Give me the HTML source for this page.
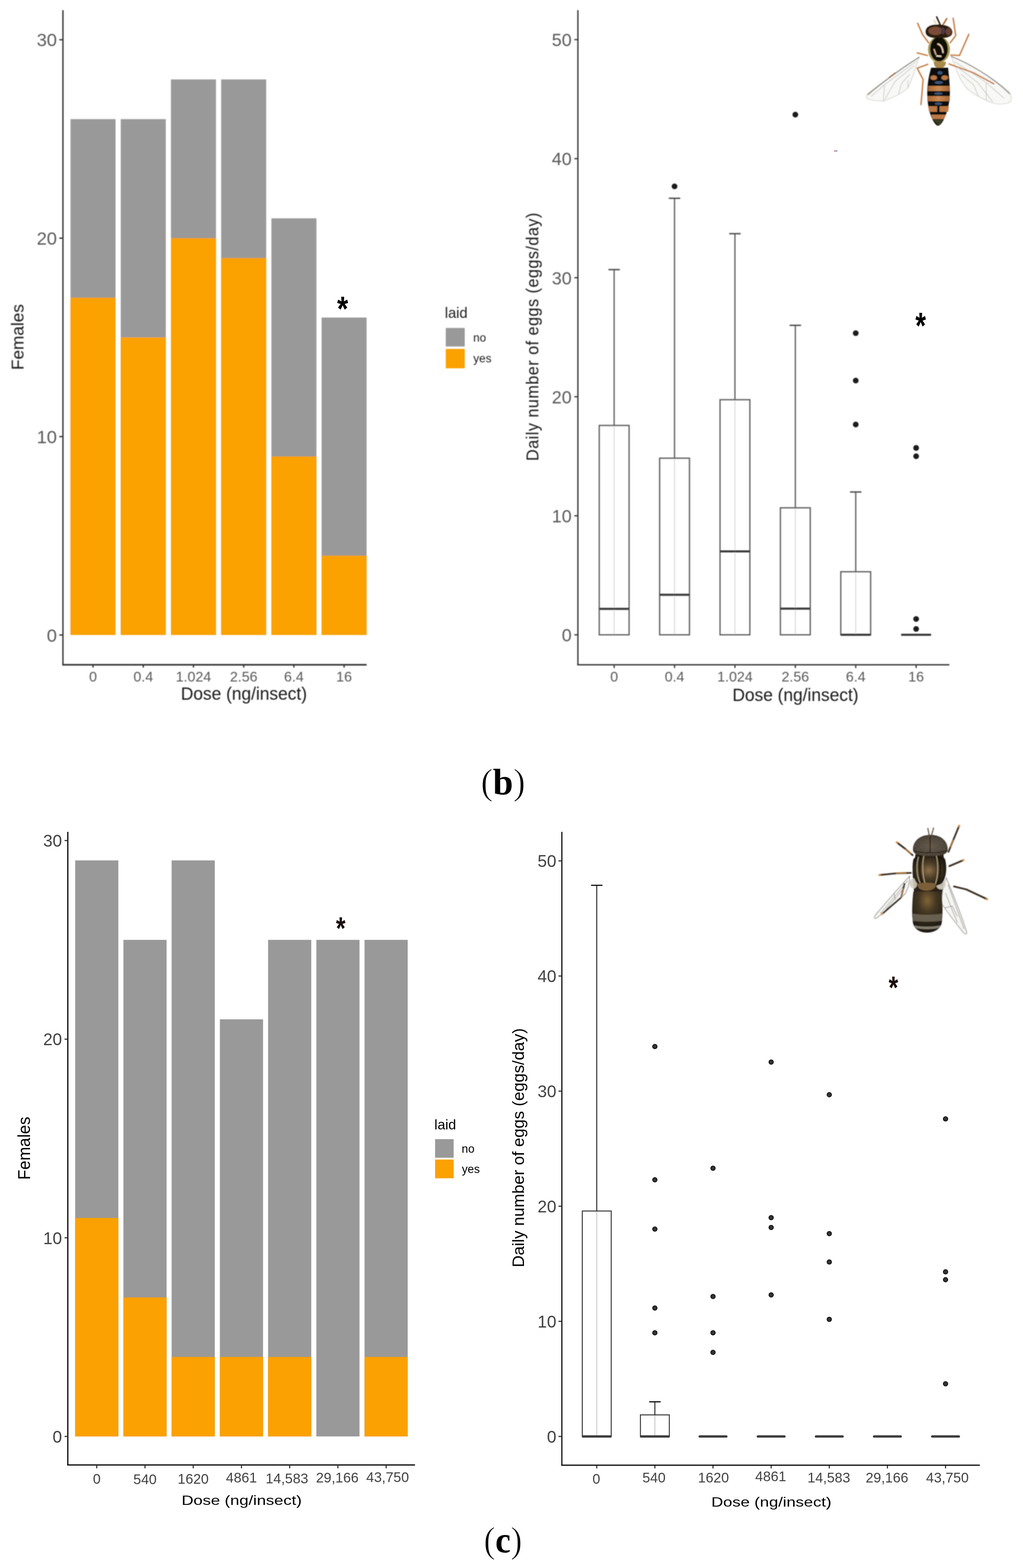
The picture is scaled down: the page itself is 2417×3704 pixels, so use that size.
<!DOCTYPE html>
<html><head><meta charset="utf-8"><title>Figure</title>
<style>html,body{margin:0;padding:0;background:#fff;} svg{display:block;}</style></head>
<body>
<svg width="2417" height="3704" viewBox="0 0 2417 3704">
<defs>
<filter id="soft" x="-5%" y="-5%" width="110%" height="110%"><feGaussianBlur stdDeviation="1.2"/></filter>
</defs>
<rect x="0" y="0" width="2417" height="3704" fill="#fff"/>
<g filter="url(#soft)">
<rect x="166.6" y="281.4" width="106.4" height="1218.6" fill="#999999" />
<rect x="166.6" y="703.2" width="106.4" height="796.8" fill="#FBA102" />
<rect x="285.3" y="281.4" width="106.4" height="1218.6" fill="#999999" />
<rect x="285.3" y="797.0" width="106.4" height="703.0" fill="#FBA102" />
<rect x="403.9" y="187.6" width="106.4" height="1312.4" fill="#999999" />
<rect x="403.9" y="562.6" width="106.4" height="937.4" fill="#FBA102" />
<rect x="522.5" y="187.6" width="106.4" height="1312.4" fill="#999999" />
<rect x="522.5" y="609.5" width="106.4" height="890.5" fill="#FBA102" />
<rect x="641.2" y="515.7" width="106.4" height="984.3" fill="#999999" />
<rect x="641.2" y="1078.2" width="106.4" height="421.8" fill="#FBA102" />
<rect x="759.8" y="750.1" width="106.4" height="749.9" fill="#999999" />
<rect x="759.8" y="1312.5" width="106.4" height="187.5" fill="#FBA102" />
<line x1="148.7" y1="24.0" x2="148.7" y2="1571.0" stroke="#333" stroke-width="3.2" stroke-linecap="butt" />
<line x1="147.1" y1="1570.3" x2="866.3" y2="1570.3" stroke="#333" stroke-width="3.8" stroke-linecap="butt" />
<line x1="140.0" y1="1500.0" x2="148.0" y2="1500.0" stroke="#333" stroke-width="3" stroke-linecap="butt" />
<text x="134.5" y="1515.5" font-family="'Liberation Sans', Arial, sans-serif" font-size="43" fill="#5a5a5a" text-anchor="end" font-weight="normal" >0</text>
<line x1="140.0" y1="1031.3" x2="148.0" y2="1031.3" stroke="#333" stroke-width="3" stroke-linecap="butt" />
<text x="134.5" y="1046.8" font-family="'Liberation Sans', Arial, sans-serif" font-size="43" fill="#5a5a5a" text-anchor="end" font-weight="normal" >10</text>
<line x1="140.0" y1="562.6" x2="148.0" y2="562.6" stroke="#333" stroke-width="3" stroke-linecap="butt" />
<text x="134.5" y="578.1" font-family="'Liberation Sans', Arial, sans-serif" font-size="43" fill="#5a5a5a" text-anchor="end" font-weight="normal" >20</text>
<line x1="140.0" y1="93.9" x2="148.0" y2="93.9" stroke="#333" stroke-width="3" stroke-linecap="butt" />
<text x="134.5" y="109.4" font-family="'Liberation Sans', Arial, sans-serif" font-size="43" fill="#5a5a5a" text-anchor="end" font-weight="normal" >30</text>
<line x1="219.8" y1="1570.0" x2="219.8" y2="1577.0" stroke="#333" stroke-width="3" stroke-linecap="butt" />
<text x="219.8" y="1609.9" font-family="'Liberation Sans', Arial, sans-serif" font-size="33.5" fill="#5a5a5a" text-anchor="middle" font-weight="normal" >0</text>
<line x1="338.5" y1="1570.0" x2="338.5" y2="1577.0" stroke="#333" stroke-width="3" stroke-linecap="butt" />
<text x="338.5" y="1609.9" font-family="'Liberation Sans', Arial, sans-serif" font-size="33.5" fill="#5a5a5a" text-anchor="middle" font-weight="normal" >0.4</text>
<line x1="457.1" y1="1570.0" x2="457.1" y2="1577.0" stroke="#333" stroke-width="3" stroke-linecap="butt" />
<text x="457.1" y="1609.9" font-family="'Liberation Sans', Arial, sans-serif" font-size="33.5" fill="#5a5a5a" text-anchor="middle" font-weight="normal" >1.024</text>
<line x1="575.8" y1="1570.0" x2="575.8" y2="1577.0" stroke="#333" stroke-width="3" stroke-linecap="butt" />
<text x="575.8" y="1609.9" font-family="'Liberation Sans', Arial, sans-serif" font-size="33.5" fill="#5a5a5a" text-anchor="middle" font-weight="normal" >2.56</text>
<line x1="694.4" y1="1570.0" x2="694.4" y2="1577.0" stroke="#333" stroke-width="3" stroke-linecap="butt" />
<text x="694.4" y="1609.9" font-family="'Liberation Sans', Arial, sans-serif" font-size="33.5" fill="#5a5a5a" text-anchor="middle" font-weight="normal" >6.4</text>
<line x1="813.0" y1="1570.0" x2="813.0" y2="1577.0" stroke="#333" stroke-width="3" stroke-linecap="butt" />
<text x="813.0" y="1609.9" font-family="'Liberation Sans', Arial, sans-serif" font-size="33.5" fill="#5a5a5a" text-anchor="middle" font-weight="normal" >16</text>
<text x="576.3" y="1653.0" font-family="'Liberation Sans', Arial, sans-serif" font-size="42" fill="#1a1a1a" text-anchor="middle" font-weight="normal" textLength="298" lengthAdjust="spacingAndGlyphs" >Dose (ng/insect)</text>
<text transform="translate(55.6,796.2) rotate(-90)" x="0" y="0" font-family="'Liberation Sans', Arial, sans-serif" font-size="41" fill="#1a1a1a" text-anchor="middle" textLength="155.5" lengthAdjust="spacingAndGlyphs">Females</text>
<text x="1051.0" y="751.0" font-family="'Liberation Sans', Arial, sans-serif" font-size="34.5" fill="#222" text-anchor="start" font-weight="normal" >laid</text>
<rect x="1053.2" y="774.7" width="44.8" height="43.8" fill="#999999" />
<rect x="1053.2" y="824.2" width="44.8" height="45.8" fill="#FBA102" />
<text x="1118.0" y="807.4" font-family="'Liberation Sans', Arial, sans-serif" font-size="28" fill="#222" text-anchor="start" font-weight="normal" textLength="30.5" lengthAdjust="spacingAndGlyphs" >no</text>
<text x="1118.3" y="855.6" font-family="'Liberation Sans', Arial, sans-serif" font-size="28" fill="#222" text-anchor="start" font-weight="normal" textLength="43" lengthAdjust="spacingAndGlyphs" >yes</text>
</g>
<text transform="translate(809.5,698.5) scale(1.0,1.21)" x="0" y="0" font-family="'Liberation Sans', Arial, sans-serif" font-weight="bold" font-size="67" text-anchor="middle" dominant-baseline="hanging" fill="#000">*</text>
<g filter="url(#soft)">
<line x1="1451.0" y1="636.9" x2="1451.0" y2="1005.0" stroke="#5f5f5f" stroke-width="3" stroke-linecap="butt" />
<line x1="1437.5" y1="636.9" x2="1464.5" y2="636.9" stroke="#4a4a4a" stroke-width="3.2" stroke-linecap="butt" />
<line x1="1451.0" y1="1005.0" x2="1451.0" y2="1499.6" stroke="#dcdcdc" stroke-width="2.5" stroke-linecap="butt" />
<rect x="1415.8" y="1005.0" width="70.5" height="494.6" fill="none" stroke="#5f5f5f" stroke-width="3"/>
<line x1="1415.8" y1="1438.3" x2="1486.2" y2="1438.3" stroke="#3a3a3a" stroke-width="5" stroke-linecap="butt" />
<line x1="1593.7" y1="468.4" x2="1593.7" y2="1082.3" stroke="#5f5f5f" stroke-width="3" stroke-linecap="butt" />
<line x1="1580.2" y1="468.4" x2="1607.2" y2="468.4" stroke="#4a4a4a" stroke-width="3.2" stroke-linecap="butt" />
<line x1="1593.7" y1="1082.3" x2="1593.7" y2="1499.6" stroke="#dcdcdc" stroke-width="2.5" stroke-linecap="butt" />
<rect x="1558.5" y="1082.3" width="70.5" height="417.3" fill="none" stroke="#5f5f5f" stroke-width="3"/>
<line x1="1558.5" y1="1405.1" x2="1629.0" y2="1405.1" stroke="#3a3a3a" stroke-width="5" stroke-linecap="butt" />
<circle cx="1593.7" cy="440.3" r="6.8" fill="#1e1e1e"/>
<line x1="1736.4" y1="552.0" x2="1736.4" y2="944.2" stroke="#5f5f5f" stroke-width="3" stroke-linecap="butt" />
<line x1="1722.9" y1="552.0" x2="1749.9" y2="552.0" stroke="#4a4a4a" stroke-width="3.2" stroke-linecap="butt" />
<line x1="1736.4" y1="944.2" x2="1736.4" y2="1499.6" stroke="#dcdcdc" stroke-width="2.5" stroke-linecap="butt" />
<rect x="1701.2" y="944.2" width="70.5" height="555.4" fill="none" stroke="#5f5f5f" stroke-width="3"/>
<line x1="1701.2" y1="1302.5" x2="1771.7" y2="1302.5" stroke="#3a3a3a" stroke-width="5" stroke-linecap="butt" />
<line x1="1879.1" y1="768.5" x2="1879.1" y2="1199.6" stroke="#5f5f5f" stroke-width="3" stroke-linecap="butt" />
<line x1="1865.6" y1="768.5" x2="1892.6" y2="768.5" stroke="#4a4a4a" stroke-width="3.2" stroke-linecap="butt" />
<line x1="1879.1" y1="1199.6" x2="1879.1" y2="1499.6" stroke="#dcdcdc" stroke-width="2.5" stroke-linecap="butt" />
<rect x="1843.8" y="1199.6" width="70.5" height="300.0" fill="none" stroke="#5f5f5f" stroke-width="3"/>
<line x1="1843.8" y1="1437.7" x2="1914.3" y2="1437.7" stroke="#3a3a3a" stroke-width="5" stroke-linecap="butt" />
<circle cx="1879.1" cy="270.8" r="6.8" fill="#1e1e1e"/>
<line x1="2021.8" y1="1162.2" x2="2021.8" y2="1350.6" stroke="#5f5f5f" stroke-width="3" stroke-linecap="butt" />
<line x1="2008.3" y1="1162.2" x2="2035.3" y2="1162.2" stroke="#4a4a4a" stroke-width="3.2" stroke-linecap="butt" />
<line x1="2021.8" y1="1350.6" x2="2021.8" y2="1499.6" stroke="#dcdcdc" stroke-width="2.5" stroke-linecap="butt" />
<rect x="1986.5" y="1350.6" width="70.5" height="149.0" fill="none" stroke="#5f5f5f" stroke-width="3"/>
<line x1="1986.5" y1="1499.6" x2="2057.1" y2="1499.6" stroke="#3a3a3a" stroke-width="5" stroke-linecap="butt" />
<circle cx="2021.8" cy="787.0" r="6.8" fill="#1e1e1e"/>
<circle cx="2021.8" cy="899.0" r="6.8" fill="#1e1e1e"/>
<circle cx="2021.8" cy="1002.7" r="6.8" fill="#1e1e1e"/>
<line x1="2129.2" y1="1499.6" x2="2199.8" y2="1499.6" stroke="#3a3a3a" stroke-width="5" stroke-linecap="butt" />
<circle cx="2164.5" cy="1058.1" r="6.8" fill="#1e1e1e"/>
<circle cx="2164.5" cy="1077.8" r="6.8" fill="#1e1e1e"/>
<circle cx="2164.5" cy="1462.2" r="6.8" fill="#1e1e1e"/>
<circle cx="2164.5" cy="1485.8" r="6.8" fill="#1e1e1e"/>
<line x1="1365.4" y1="24.0" x2="1365.4" y2="1572.0" stroke="#3a3a3a" stroke-width="3.2" stroke-linecap="butt" />
<line x1="1363.8" y1="1570.3" x2="2243.0" y2="1570.3" stroke="#3a3a3a" stroke-width="3.2" stroke-linecap="butt" />
<line x1="1357.0" y1="1499.6" x2="1365.0" y2="1499.6" stroke="#3a3a3a" stroke-width="3" stroke-linecap="butt" />
<text x="1350.5" y="1515.1" font-family="'Liberation Sans', Arial, sans-serif" font-size="42" fill="#5a5a5a" text-anchor="end" font-weight="normal" >0</text>
<line x1="1357.0" y1="1218.4" x2="1365.0" y2="1218.4" stroke="#3a3a3a" stroke-width="3" stroke-linecap="butt" />
<text x="1350.5" y="1233.9" font-family="'Liberation Sans', Arial, sans-serif" font-size="42" fill="#5a5a5a" text-anchor="end" font-weight="normal" >10</text>
<line x1="1357.0" y1="937.2" x2="1365.0" y2="937.2" stroke="#3a3a3a" stroke-width="3" stroke-linecap="butt" />
<text x="1350.5" y="952.7" font-family="'Liberation Sans', Arial, sans-serif" font-size="42" fill="#5a5a5a" text-anchor="end" font-weight="normal" >20</text>
<line x1="1357.0" y1="656.0" x2="1365.0" y2="656.0" stroke="#3a3a3a" stroke-width="3" stroke-linecap="butt" />
<text x="1350.5" y="671.5" font-family="'Liberation Sans', Arial, sans-serif" font-size="42" fill="#5a5a5a" text-anchor="end" font-weight="normal" >30</text>
<line x1="1357.0" y1="374.8" x2="1365.0" y2="374.8" stroke="#3a3a3a" stroke-width="3" stroke-linecap="butt" />
<text x="1350.5" y="390.3" font-family="'Liberation Sans', Arial, sans-serif" font-size="42" fill="#5a5a5a" text-anchor="end" font-weight="normal" >40</text>
<line x1="1357.0" y1="93.6" x2="1365.0" y2="93.6" stroke="#3a3a3a" stroke-width="3" stroke-linecap="butt" />
<text x="1350.5" y="109.1" font-family="'Liberation Sans', Arial, sans-serif" font-size="42" fill="#5a5a5a" text-anchor="end" font-weight="normal" >50</text>
<line x1="1451.0" y1="1571.0" x2="1451.0" y2="1578.0" stroke="#3a3a3a" stroke-width="3" stroke-linecap="butt" />
<text x="1451.0" y="1610.4" font-family="'Liberation Sans', Arial, sans-serif" font-size="33.5" fill="#5a5a5a" text-anchor="middle" font-weight="normal" >0</text>
<line x1="1593.7" y1="1571.0" x2="1593.7" y2="1578.0" stroke="#3a3a3a" stroke-width="3" stroke-linecap="butt" />
<text x="1593.7" y="1610.4" font-family="'Liberation Sans', Arial, sans-serif" font-size="33.5" fill="#5a5a5a" text-anchor="middle" font-weight="normal" >0.4</text>
<line x1="1736.4" y1="1571.0" x2="1736.4" y2="1578.0" stroke="#3a3a3a" stroke-width="3" stroke-linecap="butt" />
<text x="1736.4" y="1610.4" font-family="'Liberation Sans', Arial, sans-serif" font-size="33.5" fill="#5a5a5a" text-anchor="middle" font-weight="normal" >1.024</text>
<line x1="1879.1" y1="1571.0" x2="1879.1" y2="1578.0" stroke="#3a3a3a" stroke-width="3" stroke-linecap="butt" />
<text x="1879.1" y="1610.4" font-family="'Liberation Sans', Arial, sans-serif" font-size="33.5" fill="#5a5a5a" text-anchor="middle" font-weight="normal" >2.56</text>
<line x1="2021.8" y1="1571.0" x2="2021.8" y2="1578.0" stroke="#3a3a3a" stroke-width="3" stroke-linecap="butt" />
<text x="2021.8" y="1610.4" font-family="'Liberation Sans', Arial, sans-serif" font-size="33.5" fill="#5a5a5a" text-anchor="middle" font-weight="normal" >6.4</text>
<line x1="2164.5" y1="1571.0" x2="2164.5" y2="1578.0" stroke="#3a3a3a" stroke-width="3" stroke-linecap="butt" />
<text x="2164.5" y="1610.4" font-family="'Liberation Sans', Arial, sans-serif" font-size="33.5" fill="#5a5a5a" text-anchor="middle" font-weight="normal" >16</text>
<text x="1879.4" y="1655.5" font-family="'Liberation Sans', Arial, sans-serif" font-size="42" fill="#1a1a1a" text-anchor="middle" font-weight="normal" textLength="298" lengthAdjust="spacingAndGlyphs" >Dose (ng/insect)</text>
<text transform="translate(1272,795.6) rotate(-90) scale(0.94,1)" x="0" y="0" font-family="'Liberation Sans', Arial, sans-serif" font-size="40.5" fill="#1a1a1a" text-anchor="middle" textLength="624" lengthAdjust="spacing">Daily number of eggs (eggs/day)</text>
</g>
<text transform="translate(2175.1,736.7) scale(1.0,1.35)" x="0" y="0" font-family="'Liberation Sans', Arial, sans-serif" font-weight="bold" font-size="64" text-anchor="middle" dominant-baseline="hanging" fill="#000">*</text>
<rect x="1970.5" y="355.5" width="2.6" height="2.4" fill="#e05050"/><rect x="1973.1" y="355.5" width="2.6" height="2.4" fill="#50b070"/><rect x="1975.7" y="355.5" width="2.6" height="2.4" fill="#5070e0"/>
<rect x="177.6" y="2032.5" width="102.0" height="1360.7" fill="#999999" />
<rect x="177.6" y="2877.1" width="102.0" height="516.1" fill="#FBA102" />
<rect x="291.6" y="2220.2" width="102.0" height="1173.0" fill="#999999" />
<rect x="291.6" y="3064.8" width="102.0" height="328.4" fill="#FBA102" />
<rect x="405.5" y="2032.5" width="102.0" height="1360.7" fill="#999999" />
<rect x="405.5" y="3205.5" width="102.0" height="187.7" fill="#FBA102" />
<rect x="519.5" y="2407.9" width="102.0" height="985.3" fill="#999999" />
<rect x="519.5" y="3205.5" width="102.0" height="187.7" fill="#FBA102" />
<rect x="633.4" y="2220.2" width="102.0" height="1173.0" fill="#999999" />
<rect x="633.4" y="3205.5" width="102.0" height="187.7" fill="#FBA102" />
<rect x="747.4" y="2220.2" width="102.0" height="1173.0" fill="#999999" />
<rect x="861.3" y="2220.2" width="102.0" height="1173.0" fill="#999999" />
<rect x="861.3" y="3205.5" width="102.0" height="187.7" fill="#FBA102" />
<line x1="160.2" y1="1965.0" x2="160.2" y2="3462.0" stroke="#000" stroke-width="2.8" stroke-linecap="butt" />
<line x1="158.8" y1="3460.6" x2="980.5" y2="3460.6" stroke="#000" stroke-width="2.8" stroke-linecap="butt" />
<line x1="152.6" y1="3393.2" x2="160.0" y2="3393.2" stroke="#333" stroke-width="2.7" stroke-linecap="butt" />
<text x="146.5" y="3407.8" font-family="'Liberation Sans', Arial, sans-serif" font-size="40" fill="#444" text-anchor="end" font-weight="normal" >0</text>
<line x1="152.6" y1="2924.0" x2="160.0" y2="2924.0" stroke="#333" stroke-width="2.7" stroke-linecap="butt" />
<text x="146.5" y="2938.6" font-family="'Liberation Sans', Arial, sans-serif" font-size="40" fill="#444" text-anchor="end" font-weight="normal" >10</text>
<line x1="152.6" y1="2454.8" x2="160.0" y2="2454.8" stroke="#333" stroke-width="2.7" stroke-linecap="butt" />
<text x="146.5" y="2469.4" font-family="'Liberation Sans', Arial, sans-serif" font-size="40" fill="#444" text-anchor="end" font-weight="normal" >20</text>
<line x1="152.6" y1="1985.6" x2="160.0" y2="1985.6" stroke="#333" stroke-width="2.7" stroke-linecap="butt" />
<text x="146.5" y="2000.2" font-family="'Liberation Sans', Arial, sans-serif" font-size="40" fill="#444" text-anchor="end" font-weight="normal" >30</text>
<line x1="228.6" y1="3461.0" x2="228.6" y2="3468.5" stroke="#333" stroke-width="2.7" stroke-linecap="butt" />
<text x="228.6" y="3504.6" font-family="'Liberation Sans', Arial, sans-serif" font-size="33" fill="#444" text-anchor="middle" font-weight="normal" >0</text>
<line x1="342.6" y1="3461.0" x2="342.6" y2="3468.5" stroke="#333" stroke-width="2.7" stroke-linecap="butt" />
<text x="342.6" y="3505.7" font-family="'Liberation Sans', Arial, sans-serif" font-size="33" fill="#444" text-anchor="middle" font-weight="normal" >540</text>
<line x1="456.5" y1="3461.0" x2="456.5" y2="3468.5" stroke="#333" stroke-width="2.7" stroke-linecap="butt" />
<text x="456.5" y="3504.5" font-family="'Liberation Sans', Arial, sans-serif" font-size="33" fill="#444" text-anchor="middle" font-weight="normal" >1620</text>
<line x1="570.5" y1="3461.0" x2="570.5" y2="3468.5" stroke="#333" stroke-width="2.7" stroke-linecap="butt" />
<text x="570.5" y="3502.4" font-family="'Liberation Sans', Arial, sans-serif" font-size="33" fill="#444" text-anchor="middle" font-weight="normal" >4861</text>
<line x1="684.4" y1="3461.0" x2="684.4" y2="3468.5" stroke="#333" stroke-width="2.7" stroke-linecap="butt" />
<text x="677.9" y="3504.0" font-family="'Liberation Sans', Arial, sans-serif" font-size="33" fill="#444" text-anchor="middle" font-weight="normal" >14,583</text>
<line x1="798.4" y1="3461.0" x2="798.4" y2="3468.5" stroke="#333" stroke-width="2.7" stroke-linecap="butt" />
<text x="796.9" y="3501.8" font-family="'Liberation Sans', Arial, sans-serif" font-size="33" fill="#444" text-anchor="middle" font-weight="normal" >29,166</text>
<line x1="912.3" y1="3461.0" x2="912.3" y2="3468.5" stroke="#333" stroke-width="2.7" stroke-linecap="butt" />
<text x="915.8" y="3501.3" font-family="'Liberation Sans', Arial, sans-serif" font-size="33" fill="#444" text-anchor="middle" font-weight="normal" >43,750</text>
<text x="570.9" y="3555.2" font-family="'Liberation Sans', Arial, sans-serif" font-size="32" fill="#000" text-anchor="middle" font-weight="normal" textLength="284" lengthAdjust="spacingAndGlyphs" >Dose (ng/insect)</text>
<text transform="translate(70.8,2712.4) rotate(-90)" x="0" y="0" font-family="'Liberation Sans', Arial, sans-serif" font-size="41" fill="#000" text-anchor="middle" textLength="149" lengthAdjust="spacingAndGlyphs">Females</text>
<text x="1026.3" y="2668.2" font-family="'Liberation Sans', Arial, sans-serif" font-size="33" fill="#000" text-anchor="start" font-weight="normal" >laid</text>
<rect x="1028.0" y="2691.0" width="43.8" height="43.8" fill="#999999" />
<rect x="1028.0" y="2739.1" width="43.8" height="44.3" fill="#FBA102" />
<text x="1090.8" y="2722.8" font-family="'Liberation Sans', Arial, sans-serif" font-size="28" fill="#000" text-anchor="start" font-weight="normal" textLength="30.3" lengthAdjust="spacingAndGlyphs" >no</text>
<text x="1091.2" y="2771.2" font-family="'Liberation Sans', Arial, sans-serif" font-size="27.5" fill="#000" text-anchor="start" font-weight="normal" textLength="42.5" lengthAdjust="spacingAndGlyphs" >yes</text>
<text transform="translate(805.0,2164.3) scale(1.0,1.27)" x="0" y="0" font-family="'Liberation Sans', Arial, sans-serif" font-weight="bold" font-size="58" text-anchor="middle" dominant-baseline="hanging" fill="#1a0e0e">*</text>
<line x1="1409.9" y1="2091.3" x2="1409.9" y2="2860.7" stroke="#333" stroke-width="2.5" stroke-linecap="butt" />
<line x1="1396.4" y1="2091.3" x2="1423.4" y2="2091.3" stroke="#111" stroke-width="2.8" stroke-linecap="butt" />
<line x1="1409.9" y1="2860.7" x2="1409.9" y2="3393.2" stroke="#cfcfcf" stroke-width="2.6" stroke-linecap="butt" />
<rect x="1375.8" y="2860.7" width="68.3" height="532.5" fill="none" stroke="#3c3c3c" stroke-width="2.4"/>
<rect x="1375.0" y="3390.4" width="69.89999999999999" height="5.6" rx="1.5" fill="#3c3c3c"/>
<line x1="1547.2" y1="3311.4" x2="1547.2" y2="3342.3" stroke="#333" stroke-width="2.5" stroke-linecap="butt" />
<line x1="1533.8" y1="3311.4" x2="1560.8" y2="3311.4" stroke="#111" stroke-width="2.8" stroke-linecap="butt" />
<line x1="1547.2" y1="3342.3" x2="1547.2" y2="3393.2" stroke="#cfcfcf" stroke-width="2.6" stroke-linecap="butt" />
<rect x="1513.1" y="3342.3" width="68.3" height="50.9" fill="none" stroke="#3c3c3c" stroke-width="2.4"/>
<rect x="1512.3" y="3390.4" width="69.89999999999999" height="5.6" rx="1.5" fill="#3c3c3c"/>
<circle cx="1547.2" cy="2472.2" r="5.3" fill="#333" stroke="#0c0c0c" stroke-width="1.7"/>
<circle cx="1547.2" cy="2787.0" r="5.3" fill="#333" stroke="#0c0c0c" stroke-width="1.7"/>
<circle cx="1547.2" cy="2903.3" r="5.3" fill="#333" stroke="#0c0c0c" stroke-width="1.7"/>
<circle cx="1547.2" cy="3089.9" r="5.3" fill="#333" stroke="#0c0c0c" stroke-width="1.7"/>
<circle cx="1547.2" cy="3148.4" r="5.3" fill="#333" stroke="#0c0c0c" stroke-width="1.7"/>
<rect x="1650.5" y="3390.4" width="68.3" height="5.6" rx="2.8" fill="#3c3c3c"/>
<circle cx="1684.6" cy="2759.6" r="5.3" fill="#333" stroke="#0c0c0c" stroke-width="1.7"/>
<circle cx="1684.6" cy="3062.6" r="5.3" fill="#333" stroke="#0c0c0c" stroke-width="1.7"/>
<circle cx="1684.6" cy="3148.4" r="5.3" fill="#333" stroke="#0c0c0c" stroke-width="1.7"/>
<circle cx="1684.6" cy="3194.7" r="5.3" fill="#333" stroke="#0c0c0c" stroke-width="1.7"/>
<rect x="1787.8" y="3390.4" width="68.3" height="5.6" rx="2.8" fill="#3c3c3c"/>
<circle cx="1822.0" cy="2508.8" r="5.3" fill="#333" stroke="#0c0c0c" stroke-width="1.7"/>
<circle cx="1822.0" cy="2876.4" r="5.3" fill="#333" stroke="#0c0c0c" stroke-width="1.7"/>
<circle cx="1822.0" cy="2899.6" r="5.3" fill="#333" stroke="#0c0c0c" stroke-width="1.7"/>
<circle cx="1822.0" cy="3058.9" r="5.3" fill="#333" stroke="#0c0c0c" stroke-width="1.7"/>
<rect x="1925.2" y="3390.4" width="68.3" height="5.6" rx="2.8" fill="#3c3c3c"/>
<circle cx="1959.3" cy="2586.0" r="5.3" fill="#333" stroke="#0c0c0c" stroke-width="1.7"/>
<circle cx="1959.3" cy="2914.1" r="5.3" fill="#333" stroke="#0c0c0c" stroke-width="1.7"/>
<circle cx="1959.3" cy="2981.2" r="5.3" fill="#333" stroke="#0c0c0c" stroke-width="1.7"/>
<circle cx="1959.3" cy="3116.6" r="5.3" fill="#333" stroke="#0c0c0c" stroke-width="1.7"/>
<rect x="2062.5" y="3390.4" width="68.3" height="5.6" rx="2.8" fill="#3c3c3c"/>
<rect x="2199.8" y="3390.4" width="68.3" height="5.6" rx="2.8" fill="#3c3c3c"/>
<circle cx="2234.0" cy="2643.2" r="5.3" fill="#333" stroke="#0c0c0c" stroke-width="1.7"/>
<circle cx="2234.0" cy="3004.4" r="5.3" fill="#333" stroke="#0c0c0c" stroke-width="1.7"/>
<circle cx="2234.0" cy="3023.0" r="5.3" fill="#333" stroke="#0c0c0c" stroke-width="1.7"/>
<circle cx="2234.0" cy="3268.8" r="5.3" fill="#333" stroke="#0c0c0c" stroke-width="1.7"/>
<line x1="1327.5" y1="1965.0" x2="1327.5" y2="3462.5" stroke="#000" stroke-width="2.6" stroke-linecap="butt" />
<line x1="1326.2" y1="3461.1" x2="2315.0" y2="3461.1" stroke="#000" stroke-width="2.8" stroke-linecap="butt" />
<line x1="1319.5" y1="3393.2" x2="1327.0" y2="3393.2" stroke="#333" stroke-width="2.7" stroke-linecap="butt" />
<text x="1314.5" y="3407.8" font-family="'Liberation Sans', Arial, sans-serif" font-size="40" fill="#444" text-anchor="end" font-weight="normal" >0</text>
<line x1="1319.5" y1="3121.3" x2="1327.0" y2="3121.3" stroke="#333" stroke-width="2.7" stroke-linecap="butt" />
<text x="1314.5" y="3135.9" font-family="'Liberation Sans', Arial, sans-serif" font-size="40" fill="#444" text-anchor="end" font-weight="normal" >10</text>
<line x1="1319.5" y1="2849.4" x2="1327.0" y2="2849.4" stroke="#333" stroke-width="2.7" stroke-linecap="butt" />
<text x="1314.5" y="2864.0" font-family="'Liberation Sans', Arial, sans-serif" font-size="40" fill="#444" text-anchor="end" font-weight="normal" >20</text>
<line x1="1319.5" y1="2577.5" x2="1327.0" y2="2577.5" stroke="#333" stroke-width="2.7" stroke-linecap="butt" />
<text x="1314.5" y="2592.1" font-family="'Liberation Sans', Arial, sans-serif" font-size="40" fill="#444" text-anchor="end" font-weight="normal" >30</text>
<line x1="1319.5" y1="2305.6" x2="1327.0" y2="2305.6" stroke="#333" stroke-width="2.7" stroke-linecap="butt" />
<text x="1314.5" y="2320.2" font-family="'Liberation Sans', Arial, sans-serif" font-size="40" fill="#444" text-anchor="end" font-weight="normal" >40</text>
<line x1="1319.5" y1="2033.7" x2="1327.0" y2="2033.7" stroke="#333" stroke-width="2.7" stroke-linecap="butt" />
<text x="1314.5" y="2048.3" font-family="'Liberation Sans', Arial, sans-serif" font-size="40" fill="#444" text-anchor="end" font-weight="normal" >50</text>
<line x1="1409.9" y1="3462.0" x2="1409.9" y2="3468.7" stroke="#333" stroke-width="2.7" stroke-linecap="butt" />
<text x="1408.9" y="3505.0" font-family="'Liberation Sans', Arial, sans-serif" font-size="33" fill="#444" text-anchor="middle" font-weight="normal" >0</text>
<line x1="1547.2" y1="3462.0" x2="1547.2" y2="3468.7" stroke="#333" stroke-width="2.7" stroke-linecap="butt" />
<text x="1545.2" y="3501.8" font-family="'Liberation Sans', Arial, sans-serif" font-size="33" fill="#444" text-anchor="middle" font-weight="normal" >540</text>
<line x1="1684.6" y1="3462.0" x2="1684.6" y2="3468.7" stroke="#333" stroke-width="2.7" stroke-linecap="butt" />
<text x="1685.6" y="3501.8" font-family="'Liberation Sans', Arial, sans-serif" font-size="33" fill="#444" text-anchor="middle" font-weight="normal" >1620</text>
<line x1="1822.0" y1="3462.0" x2="1822.0" y2="3468.7" stroke="#333" stroke-width="2.7" stroke-linecap="butt" />
<text x="1821.0" y="3498.5" font-family="'Liberation Sans', Arial, sans-serif" font-size="33" fill="#444" text-anchor="middle" font-weight="normal" >4861</text>
<line x1="1959.3" y1="3462.0" x2="1959.3" y2="3468.7" stroke="#333" stroke-width="2.7" stroke-linecap="butt" />
<text x="1958.3" y="3501.5" font-family="'Liberation Sans', Arial, sans-serif" font-size="33" fill="#444" text-anchor="middle" font-weight="normal" >14,583</text>
<line x1="2096.7" y1="3462.0" x2="2096.7" y2="3468.7" stroke="#333" stroke-width="2.7" stroke-linecap="butt" />
<text x="2095.7" y="3501.5" font-family="'Liberation Sans', Arial, sans-serif" font-size="33" fill="#444" text-anchor="middle" font-weight="normal" >29,166</text>
<line x1="2234.0" y1="3462.0" x2="2234.0" y2="3468.7" stroke="#333" stroke-width="2.7" stroke-linecap="butt" />
<text x="2238.5" y="3501.5" font-family="'Liberation Sans', Arial, sans-serif" font-size="33" fill="#444" text-anchor="middle" font-weight="normal" >43,750</text>
<text x="1822.4" y="3558.5" font-family="'Liberation Sans', Arial, sans-serif" font-size="32" fill="#000" text-anchor="middle" font-weight="normal" textLength="284" lengthAdjust="spacingAndGlyphs" >Dose (ng/insect)</text>
<text transform="translate(1238.3,2711.3) rotate(-90)" x="0" y="0" font-family="'Liberation Sans', Arial, sans-serif" font-size="38" fill="#000" text-anchor="middle" textLength="565" lengthAdjust="spacingAndGlyphs">Daily number of eggs (eggs/day)</text>
<text transform="translate(2110.8,2303.5) scale(1.0,1.29)" x="0" y="0" font-family="'Liberation Sans', Arial, sans-serif" font-weight="bold" font-size="58" text-anchor="middle" dominant-baseline="hanging" fill="#1a0e0e">*</text>
<text x="1188.5" y="1875.6" font-family="'Liberation Serif', 'Times New Roman', serif" font-size="86" fill="#000" text-anchor="middle"><tspan stroke="#fff" stroke-width="1.4">(</tspan><tspan font-weight="bold">b</tspan><tspan stroke="#fff" stroke-width="1.4">)</tspan></text>
<text x="1188.3" y="3667" font-family="'Liberation Serif', 'Times New Roman', serif" font-size="86" fill="#000" text-anchor="middle" textLength="90.5" lengthAdjust="spacingAndGlyphs"><tspan stroke="#fff" stroke-width="1.4">(</tspan><tspan font-weight="bold">c</tspan><tspan stroke="#fff" stroke-width="1.4">)</tspan></text>
<defs>
<filter id="flyblur" x="-10%" y="-10%" width="120%" height="120%"><feGaussianBlur stdDeviation="1.3"/></filter>
<filter id="speckle" x="0" y="0" width="100%" height="100%">
<feTurbulence type="fractalNoise" baseFrequency="0.45" numOctaves="2" seed="3" result="n"/>
<feColorMatrix in="n" type="matrix" values="0 0 0 0 0.15  0 0 0 0 0.12  0 0 0 0 0.1  0 0 0 -2.2 1.25" result="dots"/>
<feComposite in="dots" in2="SourceGraphic" operator="in" result="d2"/>
<feMerge><feMergeNode in="SourceGraphic"/><feMergeNode in="d2"/></feMerge>
</filter>
<filter id="flyblur2" x="-10%" y="-10%" width="120%" height="120%"><feGaussianBlur stdDeviation="0.9"/></filter>
<radialGradient id="thx2" cx="0.48" cy="0.5" r="0.55">
<stop offset="0" stop-color="#8e7048"/><stop offset="0.45" stop-color="#4e3e28"/><stop offset="1" stop-color="#1c1810"/>
</radialGradient>
<radialGradient id="abd2" cx="0.5" cy="0.22" r="0.65">
<stop offset="0" stop-color="#806438"/><stop offset="0.45" stop-color="#443822"/><stop offset="1" stop-color="#221e14"/>
</radialGradient>
<radialGradient id="head2" cx="0.5" cy="0.55" r="0.6">
<stop offset="0" stop-color="#665a4a"/><stop offset="0.75" stop-color="#463e32"/><stop offset="1" stop-color="#241e16"/>
</radialGradient>
<linearGradient id="band1" x1="0" y1="0" x2="1" y2="0">
<stop offset="0" stop-color="#a86636"/><stop offset="0.5" stop-color="#cc8c54"/><stop offset="1" stop-color="#a86636"/>
</linearGradient>
</defs>
<!-- ===== Fly 1: hoverfly (top right) ===== -->
<g filter="url(#flyblur)">
  <!-- left wing -->
  <path d="M2172,135 C2140,155 2090,190 2052,220 C2044,228 2046,234 2054,235 C2070,238 2085,240 2090,238 C2105,232 2118,226 2124,223 C2132,218 2140,212 2145,208 C2154,190 2162,165 2168,144 Z" fill="#f8f8f6" stroke="#c4c4c0" stroke-width="1.2"/>
  <path d="M2172,135 C2140,155 2090,190 2050,224" fill="none" stroke="#8a8278" stroke-width="2.4"/>
  <path d="M2116,172 L2100,184" stroke="#a07040" stroke-width="3.2"/>
  <g fill="none" stroke="#bcbcb6" stroke-width="1.3">
    <path d="M2165,145 L2090,200 L2058,228"/>
    <path d="M2160,155 L2115,192 L2090,236"/>
    <path d="M2150,175 L2130,197 L2123,222"/>
    <path d="M2145,190 L2145,208"/>
    <path d="M2090,200 L2087,238"/>
  </g>
  <!-- right wing -->
  <path d="M2247,133 C2290,150 2345,182 2382,215 C2392,226 2392,240 2380,244 C2365,247 2352,246 2345,243 C2325,236 2300,222 2288,212 C2276,200 2266,185 2258,160 Z" fill="#f8f8f6" stroke="#c4c4c0" stroke-width="1.2"/>
  <path d="M2247,133 C2290,150 2345,182 2386,222" fill="none" stroke="#8a8278" stroke-width="2.2"/>
  <g fill="none" stroke="#bcbcb6" stroke-width="1.3">
    <path d="M2255,145 L2330,195 L2372,232"/>
    <path d="M2262,158 L2310,195 L2345,240"/>
    <path d="M2270,175 L2300,200 L2312,228"/>
    <path d="M2330,195 L2330,238"/>
  </g>
  <!-- legs -->
  <g fill="none" stroke="#c87c40" stroke-width="3.2" stroke-linecap="round" stroke-linejoin="round">
    <path d="M2168,55 L2180,82 L2194,101"/>
    <path d="M2252,43 L2258,84 L2245,101"/>
    <path d="M2167,125 L2191,131"/>
    <path d="M2289,81 L2267,131 L2246,130"/>
    <path d="M2192,152 L2167,161 L2181,188 L2176,247"/>
    <path d="M2242,151 L2300,172 L2348,198"/>
  </g>
  <!-- antennae -->
  <path d="M2213,40 L2222,60" stroke="#2a1810" stroke-width="3.4" stroke-linecap="round"/>
  <path d="M2237,44 L2227,60" stroke="#b06830" stroke-width="3.4" stroke-linecap="round"/>
  <path d="M2207,48 L2212,58" stroke="#e8e0c0" stroke-width="4" stroke-linecap="round"/>
  <!-- thorax side margins -->
  <ellipse cx="2218.5" cy="117" rx="26" ry="31" fill="#a89858"/>
  <!-- thorax -->
  <ellipse cx="2218.5" cy="116" rx="21" ry="29" fill="#0a0806"/>
  <path d="M2216,104 C2223,106 2227,113 2228,124" stroke="#e8ccb8" stroke-width="3.6" fill="none" stroke-linecap="round"/>
  <path d="M2207,117 L2211,128" stroke="#d8a898" stroke-width="3.4" fill="none" stroke-linecap="round"/>
  <path d="M2213,132 L2223,133" stroke="#e8d8c0" stroke-width="3.4" fill="none" stroke-linecap="round"/>
  <!-- head -->
  <path d="M2187,76 C2186,64 2198,58 2215,58 C2235,58 2250,64 2250,76 C2250,86 2240,90 2218,90 C2198,90 2188,86 2187,76 Z" fill="#2a1a0e"/>
  <ellipse cx="2210" cy="73" rx="17" ry="10" fill="#7a4c38"/>
  <ellipse cx="2241" cy="75" rx="7" ry="9" fill="#6a4030"/>
  <ellipse cx="2228" cy="73" rx="5" ry="8" fill="#4a3848"/>
  <!-- scutellum -->
  <path d="M2206,146 L2235,146 C2235,156 2228,162 2220,162 C2212,162 2206,156 2206,146 Z" fill="#a88a48"/>
  <!-- abdomen -->
  <path d="M2200,160 C2194,180 2190,205 2191,228 C2192,250 2196,268 2203,282 C2208,292 2213,297 2216,297 C2220,297 2225,292 2230,282 C2237,268 2242,250 2244,228 C2245,205 2242,180 2240,160 Z" fill="#0c0c0c"/>
  <g fill="#bc7844">
    <ellipse cx="2206" cy="183.5" rx="8" ry="5.5"/>
    <ellipse cx="2232" cy="183.5" rx="8" ry="5.5"/>
    <path d="M2193,203 L2243,203 L2243,215 L2192,215 Z" fill="url(#band1)"/>
    <path d="M2191,227 L2244,227 L2244,239 L2191,239 Z" fill="url(#band1)"/>
    <path d="M2193,251 L2214,251 L2214,264 L2195,264 Z"/>
    <path d="M2220,251 L2242,251 L2240,264 L2220,264 Z"/>
    <path d="M2200,271 L2234,271 L2231,281 L2203,281 Z"/>
  </g>
  <path d="M2204,282 L2229,282 L2218,297 Z" fill="#3a3a20"/>
  <g fill="#4a6c9c" opacity="0.75">
    <ellipse cx="2221" cy="172" rx="6" ry="4"/>
    <ellipse cx="2218" cy="195" rx="10" ry="3.5"/>
    <ellipse cx="2217" cy="221" rx="10" ry="3"/>
    <ellipse cx="2217" cy="245" rx="9" ry="3"/>
  </g>
</g>
<!-- ===== Fly 2: Eristalinus (bottom right) ===== -->
<g filter="url(#flyblur2)">
  <path d="M2166,2000 L2228,2000 L2232,2060 L2226,2115 L2160,2115 L2156,2060 Z" fill="#2a2418"/>
  <!-- wings -->
  <path d="M2149,2070 C2125,2095 2095,2130 2068,2162 C2064,2168 2066,2172 2072,2168 C2095,2150 2120,2130 2139,2111 C2146,2098 2150,2085 2149,2070 Z" fill="#f4f4f2" stroke="#6a6058" stroke-width="1.2"/>
  <path d="M2236,2074 C2250,2110 2268,2150 2284,2202 C2285,2207 2280,2208 2276,2203 C2258,2180 2238,2155 2226,2136 C2224,2115 2228,2090 2236,2074 Z" fill="#f4f4f2" stroke="#6a6058" stroke-width="1.2"/>
  <g fill="none" stroke="#5a5048" stroke-width="1">
    <path d="M2145,2080 L2080,2158"/><path d="M2138,2095 L2100,2140 L2092,2150"/><path d="M2115,2125 L2112,2110"/>
    <path d="M2240,2090 L2278,2195"/><path d="M2234,2110 L2262,2180"/><path d="M2232,2145 L2250,2140 L2262,2165"/>
  </g>
  <!-- legs -->
  <g fill="none" stroke="#3e3228" stroke-width="4.2" stroke-linecap="round" stroke-linejoin="round">
    <path d="M2119,1990 L2140,2006 L2156,2020"/>
    <path d="M2266,1951 L2252,1985 L2241,2012"/>
    <path d="M2078,2067 L2118,2063 L2152,2062"/>
    <path d="M2276,2032 L2243,2046"/>
    <path d="M2084,2159 L2129,2120 L2137,2088"/>
    <path d="M2332,2124 L2283,2101 L2254,2094"/>
  </g>
  <g fill="none" stroke="#b07838" stroke-width="3" stroke-linecap="round">
    <path d="M2140,2006 L2152,2016"/><path d="M2252,1985 L2246,2000"/><path d="M2118,2063 L2140,2062"/><path d="M2129,2120 L2134,2100"/>
  </g>
  <g fill="#d89848">
    <circle cx="2119" cy="1990" r="2.8"/><circle cx="2266" cy="1951" r="2.8"/><circle cx="2078" cy="2067" r="2.8"/>
    <circle cx="2276" cy="2032" r="2.8"/><circle cx="2084" cy="2159" r="2.8"/><circle cx="2332" cy="2124" r="2.8"/>
  </g>
  <!-- abdomen -->
  <path d="M2158,2106 L2224,2106 C2227,2130 2228,2160 2225,2180 C2222,2196 2205,2203 2190,2203 C2175,2203 2160,2196 2157,2180 C2154,2160 2155,2130 2158,2106 Z" fill="url(#abd2)"/>
  <path d="M2157,2158 C2175,2162 2205,2162 2226,2158 L2226,2175 C2205,2178 2175,2178 2156,2175 Z" fill="#7a7262" opacity="0.75"/>
  <path d="M2160,2186 C2178,2190 2202,2190 2222,2186 L2220,2192 C2200,2196 2180,2196 2162,2192 Z" fill="#9a9282" opacity="0.8"/>
  <!-- squamae -->
  <ellipse cx="2158" cy="2087" rx="9" ry="12" fill="#d4cec0" opacity="0.9"/>
  <ellipse cx="2223" cy="2090" rx="11" ry="11" fill="#d4cec0" opacity="0.9"/>
  <!-- thorax -->
  <path d="M2158,2030 C2154,2050 2156,2072 2166,2086 C2176,2096 2216,2096 2226,2086 C2236,2072 2238,2050 2233,2030 C2226,2016 2166,2016 2158,2030 Z" fill="url(#thx2)"/>
  <g fill="none" stroke="#c8b890" stroke-width="2.2" opacity="0.85">
    <path d="M2170,2024 C2164,2045 2166,2070 2174,2086"/>
    <path d="M2183,2020 C2178,2045 2180,2070 2186,2088"/>
    <path d="M2212,2020 C2218,2045 2216,2070 2210,2088"/>
  </g>
  <g fill="none" stroke="#14100a" stroke-width="3" opacity="0.8">
    <path d="M2176,2022 C2171,2045 2173,2070 2180,2088"/>
    <path d="M2218,2022 C2224,2045 2222,2070 2216,2088"/>
  </g>
  <!-- scutellum -->
  <path d="M2168,2088 C2178,2084 2202,2084 2211,2088 C2212,2098 2202,2104 2189,2104 C2176,2104 2167,2098 2168,2088 Z" fill="#7a5e38"/>
  <!-- head -->
  <path d="M2157,2008 C2156,1986 2175,1972 2198,1972 C2222,1972 2240,1986 2239,2008 C2238,2018 2225,2022 2198,2022 C2172,2022 2158,2018 2157,2008 Z" fill="url(#head2)" filter="url(#speckle)"/>
  <path d="M2198,1974 L2197,2016" stroke="#241c14" stroke-width="2.2"/>
  <path d="M2160,2010 C2180,2016 2216,2016 2236,2010" stroke="#2a2018" stroke-width="2" fill="none"/>
  <path d="M2192,1956 L2196,1976 M2206,1955 L2200,1976" stroke="#5a4a38" stroke-width="2.4" fill="none"/>
</g>

</svg></body></html>
